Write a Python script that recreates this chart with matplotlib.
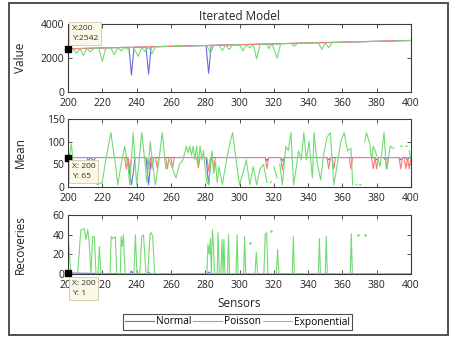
import numpy as np
import matplotlib
matplotlib.use("Agg")
import matplotlib.pyplot as plt
from matplotlib.patches import Rectangle

nan = np.nan

# ---- Value panel ----
val_norm_x = [200, 235.5, 237, 238.5, 245.5, 247, 248.5, 280.5, 282, 283.5, 400]
val_norm_y = [2542, 2628, 1000, 2633, 2650, 1050, 2660, 2735, 1100, 2740, 3032]
val_pois_x = [200, 250, 300, 350, 400]
val_pois_y = [2542, 2664, 2787, 2910, 3032]
val_exp_x = [200, 203, 205, 207, 209, 211, 213, 215, 218, 220, 222, 225, 227, 229, 231, 233,
             235, 236, 238, 241, 243, 245, 247, 249, 251, 253, 258, 259, 262, 268, 269, 272,
             279, 281, 283, 285, 288, 290, 292, 294, 296, 300, 302, 304, 306, 308, 310, 312,
             316, 317, 319, 322, 324, 330, 332, 334, 346, 348, 350, 352, 354, 362, 363, 366,
             372, 373, 376, 385, 386, 390, 400]
val_exp_y = [2540, 2550, 2280, 2555, 2150, 2565, 2350, 2570, 2575, 1800, 2585, 2590, 2200, 2610, 2420, 2620,
             2500, 2625, 2630, 2100, 2640, 2380, 2650, 2250, 2660, 2665, 2675, nan, 2685, 2700, nan, 2705,
             2730, 2735, 2300, 2745, 2750, 2450, 2760, 2500, 2770, 2780, 2420, 2790, 2600, 2800, 1950, 2810,
             2820, 2550, 2830, 2000, 2840, 2855, 2700, 2865, 2890, 2500, 2900, 2600, 2910, 2935, nan, 2945,
             2960, nan, 2970, 2990, nan, 3005, 3030]

# ---- Mean panel ----
mean_norm_x = [200, 211, 212, 213, 215, 216, 235, 236, 237, 238, 239, 245.5, 247, 248.5,
               280.5, 282, 283.5, 315, 316, 317, 324, 325, 326, 351, 352, 353, 379, 380, 381,
               384, 385, 386, 393, 394, 395, 397, 398, 399, 400]
mean_norm_y = [65, 65, 58, 65, 58, 65, 65, 30, 5, 30, 65, 65, 5, 65,
               65, 5, 65, 65, 58, 65, 65, 58, 65, 65, 60, 65, 65, 60, 65,
               65, 60, 65, 65, 60, 65, 65, 60, 65, 65]
mean_pois_x = [200, 233, 234, 235, 236, 237, 246, 247, 248, 249, 250, 251, 252, 253, 257, 258, 259,
               260, 261, 262, 275, 276, 277, 281, 282, 283, 284, 285, 286, 315, 316, 317, 324, 325,
               326, 351, 352, 353, 354, 355, 356, 364, 365, 366, 377, 378, 379, 380, 381, 385, 386,
               387, 393, 394, 395, 396, 397, 398, 399, 400]
mean_pois_y = [65, 65, 40, 65, 38, 65, 65, 40, 65, 40, 65, 65, 42, 65, 65, 40, 65,
               65, 42, 65, 65, 42, 65, 65, 35, 65, 65, 40, 65, 65, 40, 65, 65, 38,
               65, 65, 40, 65, 65, 40, 65, 65, 40, 65, 65, 40, 65, 40, 65, 65, 40,
               65, 65, 40, 65, 65, 40, 65, 40, 65]
mean_exp_x = [200, 202, 204, 205, 215, 217, 220, 222, 225, 228, 229, 231, 233, 235, 236, 238, 240,
              241, 243, 245, 246, 248, 249, 251, 253, 255, 257, 259, 261, 263, 265, 267, 269, 270,
              271, 272, 273, 274, 275, 276, 277, 278, 279, 280, 281, 282, 283, 284, 285, 286, 287,
              288, 290, 292, 294, 296, 298, 300, 302, 304, 306, 308, 310, 312, 314, 316, 317, 318,
              318.5, 319, 320, 322, 322.5, 323.5, 325, 327, 328.5, 330, 331.5, 333, 334.5, 336,
              337.5, 339, 340.5, 342.5, 343.5, 345, 347.3, 349, 351, 353, 355, 357, 359, 361, 363,
              365, 366, 367, 368, 368.5, 369, 370, 371, 372, 373, 374, 376, 377, 378, 380, 382, 384.3,
              385.5, 388, 390, 391, 394, 395, 396, 397, 398, 398.5, 399, 400]
mean_exp_y = [50, 95, 10, 35, 35, 5, 10, 60, 120, 40, 5, 50, 90, 45, 5, 120, 5,
              40, 120, 50, 10, 100, 60, 5, 60, 120, 40, 60, 40, 20, 50, 60, 90, 75,
              90, 70, 90, 60, 90, 50, 90, 60, 80, 40, 10, 5, 50, 80, 30, 55, 10,
              45, 5, 50, 90, 120, 60, 5, 30, 60, 5, 45, 5, 40, 50, 10, nan, 10,
              12, nan, 45, 20, nan, 50, 5, 90, 80, 120, 5, 40, 80, 60,
              120, 60, 100, 20, 120, 60, 15, 70, 110, 120, 5, 50, 100, 120, 80,
              85, 5, nan, 5, 5, nan, 5, 5, nan, 100, 120, 95, 60, 90, 70, 45, 120,
              40, 90, 85, nan, 90, 90, nan, 90, 90, nan, 80, 60]

# ---- Recoveries panel ----
rec_norm_x = [200, 236, 237, 238, 246, 247, 248, 281, 282, 283, 400]
rec_norm_y = [1, 0, 3, 0, 0, 2, 0, 0, 2, 0, 0]
rec_pois_x = [200, 400]
rec_pois_y = [0, 0]
rec_exp_x = [200, 201.7, 205.6, 207.5, 209.5, 210.5, 211.5, 212.4, 213.4, 214.4, 215.4, 216.3,
             217.5, 218.3, 219.2, 224.5, 225.2, 226, 227.6, 228.4, 230.5, 231, 231.6, 232.3, 233.3,
             238.4, 239.3, 240.2, 241.8, 243, 244, 245.5, 246.5, 247.8, 248.6, 249.4, 250.5, 281,
             281.6, 282.4, 283, 283.6, 284.2, 284.8, 285.4, 287, 287.5, 288.3, 289.2, 289.8, 290.4,
             290.9, 291.5, 293, 293.6, 294.2, 298, 298.6, 299.2, 302.4, 303, 303.6, 309, 309.8, 310.6,
             314.2, 315, 315.8, 316.6, 321.4, 322.2, 323, 330.8, 331.4, 332, 346, 346.6, 347.2, 350,
             350.6, 351.2, 364.6, 365.2, 365.8, 400]
rec_exp_y = [40, 0, 0, 45, 46, 35, 45, 32, 0, 38, 38, 0,
             0, 28, 0, 0, 38, 36, 38, 0, 0, 38, 28, 40, 0,
             0, 40, 0, 0, 38, 40, 0, 0, 40, 42, 38, 0, 0,
             30, 20, 36, 0, 45, 30, 0, 0, 42, 0, 0, 35, 0,
             35, 0, 0, 40, 0, 0, 40, 0, 0, 38, 0, 0, 22, 0,
             0, 40, 42, 0, 0, 25, 0, 0, 38, 0, 0, 36, 0, 0,
             38, 0, 0, 41, 0, 0]
rec_dot_x = [306, 318.5, 369, 373]
rec_dot_y = [32, 44, 40, 40]

x_ticks = list(range(200, 401, 20))

c_norm = "#6b6bde"
c_pois = "#ff7a7a"
c_exp = "#72db72"

plt.rcParams['font.family'] = ['Open Sans', 'DejaVu Sans']

fig = plt.figure(figsize=(4.53, 3.38), dpi=100)
fig.patch.set_facecolor("white")

W, H = 453.0, 338.0


def px_axes(left, top, right, bottom):
    return fig.add_axes([left / W, 1 - bottom / H, (right - left) / W, (bottom - top) / H])


ax1 = px_axes(68, 24, 411, 92)
ax2 = px_axes(68, 119, 411, 187)
ax3 = px_axes(68, 215, 411, 274)

panels = [
    (ax1, val_norm_x, val_norm_y, val_pois_x, val_pois_y, val_exp_x, val_exp_y, (0, 4000), [0, 2000, 4000], "Value"),
    (ax2, mean_norm_x, mean_norm_y, mean_pois_x, mean_pois_y, mean_exp_x, mean_exp_y, (0, 150), [0, 50, 100, 150], "Mean"),
    (ax3, rec_norm_x, rec_norm_y, rec_pois_x, rec_pois_y, rec_exp_x, rec_exp_y, (0, 60), [0, 20, 40, 60], "Recoveries"),
]

lines = []
for ax, nx, ny, px_, py_, ex, ey, ylim, yt, lab in panels:
    l1, = ax.plot(nx, ny, color=c_norm, lw=0.8)
    l2, = ax.plot(px_, py_, color=c_pois, lw=0.8)
    l3, = ax.plot(ex, ey, color=c_exp, lw=0.8)
    lines = [l1, l2, l3]
    ax.set_xlim(200, 400)
    ax.set_ylim(*ylim)
    ax.set_xticks(x_ticks)
    ax.set_yticks(yt)
    ax.tick_params(direction="in", top=True, right=True, length=3, width=0.6,
                   labelsize=7.5, colors="#333333", labelcolor="#222222")
    ax.tick_params(axis="x", pad=4.5)
    ax.tick_params(axis="y", pad=2.5)
    for s in ax.spines.values():
        s.set_color("#3a3a3a")
        s.set_linewidth(0.8)
    ax.set_ylabel(lab, fontsize=8.5, color="#222222")
    ax.yaxis.set_label_coords(-0.12, 0.5)

ax3.plot(rec_dot_x, rec_dot_y, ls="none", marker="s", ms=0.8, color=c_exp)

ax1.set_title("Iterated Model", fontsize=8.5, pad=3, color="#222222")
ax3.set_xlabel("Sensors", fontsize=8.5, labelpad=4, color="#222222")

# data tip markers
for ax, yv in [(ax1, 2542), (ax2, 65), (ax3, 1)]:
    ax.plot([200], [yv], marker="s", ms=4.5, color="black", clip_on=False, zorder=10)

# data tip boxes
tip_box = dict(boxstyle="square,pad=0.3", facecolor="#fbf8e6", edgecolor="#cfc8ae", lw=0.6)
fig.text(72 / W, 1 - 25 / H, "X:200\nY:2542", fontsize=6.1, va="top", ha="left",
         linespacing=1.6, bbox=tip_box, color="#333333", zorder=20)
fig.text(72 / W, 1 - 163 / H, "X: 200\nY: 65", fontsize=6.1, va="top", ha="left",
         linespacing=1.6, bbox=tip_box, color="#333333", zorder=20)
fig.text(72 / W, 1 - 280 / H, "X: 200\nY: 1", fontsize=6.1, va="top", ha="left",
         linespacing=1.6, bbox=tip_box, color="#333333", zorder=20)

leg = fig.legend(lines, ["Normal", "Poisson", "Exponential"], ncol=3, loc="center",
                 bbox_to_anchor=(237.5 / W, 1 - 322 / H), fontsize=7.3, frameon=True,
                 fancybox=False, handlelength=2.9, handletextpad=0.2, columnspacing=0.15,
                 borderpad=0.2, borderaxespad=0)
leg.get_frame().set_edgecolor("#222222")
leg.get_frame().set_linewidth(0.8)

# outer frame of the figure window
fig.add_artist(Rectangle((9 / W, 3 / H), 439 / W, 332 / H, transform=fig.transFigure,
                         fill=False, edgecolor="#505050", lw=1.4))

fig.savefig("out.png", dpi=100)
